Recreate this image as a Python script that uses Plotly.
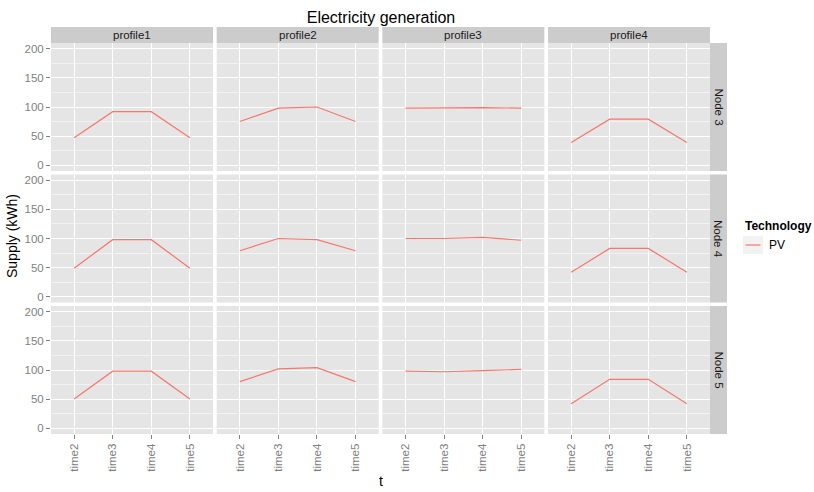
import plotly.graph_objects as go

# Categories and facets
times = ["time2", "time3", "time4", "time5"]
profiles = ["profile1", "profile2", "profile3", "profile4"]
nodes = ["Node 3", "Node 4", "Node 5"]
technologies = ["PV"]

# PV supply (kWh) per node, one list per profile
node3_pv = [[47, 92, 92, 47], [75, 98, 100, 75], [98, 99, 99, 98], [39, 79, 79, 39]]
node4_pv = [[49, 98, 98, 49], [79, 100, 98, 79], [100, 100, 102, 97], [42, 83, 83, 42]]
node5_pv = [[50, 98, 98, 50], [80, 102, 104, 80], [98, 97, 99, 101], [42, 84, 84, 42]]
supply = [node3_pv, node4_pv, node5_pv]

y_ticks = [0, 50, 100, 150, 200]
y_minor = [25, 75, 125, 175]

W, H = 814, 492
FONT = "Liberation Sans, Arial, sans-serif"
LINE_COLOR = "#F8766D"


def fx(px):
    return px / W


def fy(px):
    return 1 - px / H


# panel geometry in pixels
PANEL_LEFT, PANEL_W, COL_STEP = 51, 162, 165.67
PANEL_TOP, PANEL_H, ROW_STEP = 43, 128, 131.5
STRIP_TOP, STRIP_RIGHT = 27, 727

fig = go.Figure()
layout = {}
shapes = []
annotations = []

for r, node in enumerate(nodes):
    for c, prof in enumerate(profiles):
        k = r * len(profiles) + c + 1
        sfx = "" if k == 1 else str(k)
        fig.add_trace(go.Scatter(
            x=times, y=supply[r][c], mode="lines",
            line=dict(color=LINE_COLOR, width=1.2),
            name=technologies[0], showlegend=False,
            xaxis="x" + sfx, yaxis="y" + sfx,
        ))
        x0 = PANEL_LEFT + c * COL_STEP
        x1 = x0 + PANEL_W
        y0 = PANEL_TOP + r * ROW_STEP
        y1 = y0 + PANEL_H
        bottom = r == len(nodes) - 1
        left = c == 0
        layout["xaxis" + sfx] = dict(
            domain=[fx(x0), fx(x1)], anchor="y" + sfx,
            type="category", categoryorder="array", categoryarray=times,
            range=[-0.6, 3.6],
            showgrid=True, gridcolor="white", gridwidth=1.1,
            zeroline=False, showline=False,
            ticks="outside" if bottom else "", ticklen=4, tickwidth=1,
            tickcolor="#7F7F7F",
            showticklabels=bottom, tickangle=-90,
            tickfont=dict(family=FONT, size=11.5, color="#7F7F7F"),
            fixedrange=True,
        )
        layout["yaxis" + sfx] = dict(
            domain=[fy(y1), fy(y0)], anchor="x" + sfx,
            range=[-10, 210], tickvals=y_ticks,
            showgrid=True, gridcolor="white", gridwidth=1.1,
            minor=dict(tickvals=y_minor, showgrid=True,
                       gridcolor="#F2F2F2", gridwidth=0.6),
            zeroline=False, showline=False,
            ticks="outside" if left else "", ticklen=4, tickwidth=1,
            tickcolor="#7F7F7F",
            showticklabels=left,
            tickfont=dict(family=FONT, size=11.5, color="#7F7F7F"),
            fixedrange=True,
        )

# column strips (profiles)
for c, prof in enumerate(profiles):
    x0 = PANEL_LEFT + c * COL_STEP
    x1 = x0 + PANEL_W
    shapes.append(dict(type="rect", xref="paper", yref="paper",
                       x0=fx(x0), x1=fx(x1), y0=fy(PANEL_TOP), y1=fy(STRIP_TOP),
                       fillcolor="#CCCCCC", line=dict(width=0), layer="below"))
    annotations.append(dict(text=prof, xref="paper", yref="paper",
                            x=fx((x0 + x1) / 2), y=fy((STRIP_TOP + PANEL_TOP) / 2),
                            xanchor="center", yanchor="middle", showarrow=False,
                            font=dict(family=FONT, size=11.5, color="#1A1A1A")))

# row strips (nodes)
strip_x0 = PANEL_LEFT + 3 * COL_STEP + PANEL_W
for r, node in enumerate(nodes):
    y0 = PANEL_TOP + r * ROW_STEP
    y1 = y0 + PANEL_H
    shapes.append(dict(type="rect", xref="paper", yref="paper",
                       x0=fx(strip_x0), x1=fx(STRIP_RIGHT), y0=fy(y1), y1=fy(y0),
                       fillcolor="#CCCCCC", line=dict(width=0), layer="below"))
    annotations.append(dict(text=node, xref="paper", yref="paper",
                            x=fx((strip_x0 + STRIP_RIGHT) / 2), y=fy((y0 + y1) / 2),
                            xanchor="center", yanchor="middle", showarrow=False,
                            textangle=90,
                            font=dict(family=FONT, size=11.5, color="#1A1A1A")))

# legend: title, grey key box with a line sample, and label
LEG_X, LEG_TITLE_Y, KEY_TOP, KEY_SIZE = 743, 226, 236, 18
annotations.append(dict(text="<b>Technology</b>", xref="paper", yref="paper",
                        x=fx(LEG_X), y=fy(LEG_TITLE_Y), xanchor="left", yanchor="middle",
                        showarrow=False,
                        font=dict(family=FONT, size=12, color="black")))
for i, tech in enumerate(technologies):
    ky0 = KEY_TOP + i * KEY_SIZE
    kyc = ky0 + KEY_SIZE / 2
    shapes.append(dict(type="rect", xref="paper", yref="paper",
                       x0=fx(LEG_X), x1=fx(LEG_X + 20), y0=fy(ky0 + KEY_SIZE), y1=fy(ky0),
                       fillcolor="#F2F2F2", line=dict(width=0)))
    shapes.append(dict(type="line", xref="paper", yref="paper",
                       x0=fx(LEG_X + 2.5), x1=fx(LEG_X + 17.5), y0=fy(kyc), y1=fy(kyc),
                       line=dict(color=LINE_COLOR, width=1.2)))
    annotations.append(dict(text=tech, xref="paper", yref="paper",
                            x=fx(LEG_X + 24), y=fy(kyc), xanchor="left", yanchor="middle",
                            showarrow=False,
                            font=dict(family=FONT, size=12, color="black")))

# axis titles
annotations.append(dict(text="Supply (kWh)", xref="paper", yref="paper",
                        x=fx(12), y=fy(236), xanchor="center", yanchor="middle",
                        showarrow=False, textangle=-90,
                        font=dict(family=FONT, size=14, color="black")))
annotations.append(dict(text="t", xref="paper", yref="paper",
                        x=fx(381), y=fy(481), xanchor="center", yanchor="middle",
                        showarrow=False,
                        font=dict(family=FONT, size=14, color="black")))

fig.update_layout(
    width=W, height=H,
    margin=dict(l=0, r=0, t=0, b=0),
    paper_bgcolor="white", plot_bgcolor="#E5E5E5",
    showlegend=False,
    title=dict(text="Electricity generation", x=fx(381), y=fy(17),
               xanchor="center", yanchor="middle",
               font=dict(family=FONT, size=16, color="black")),
    shapes=shapes, annotations=annotations,
    **layout,
)

fig.write_html("out.html")
